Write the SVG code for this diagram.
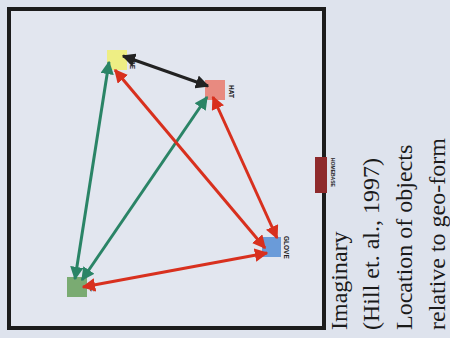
<svg xmlns="http://www.w3.org/2000/svg" width="450" height="338" viewBox="0 0 450 338">
<defs>
<style>
.lbl{font-family:"Liberation Sans",Arial,sans-serif;font-weight:bold;font-size:6.5px;fill:#222}
.cap{font-family:"Liberation Serif","Times New Roman",serif;font-size:24px;fill:#1a1a1a}
.c{fill:none;stroke-width:3}
.red{stroke:#d8301e}
.grn{stroke:#2a8466}
.blk{stroke:#222}
</style>
<marker id="ar" viewBox="0 0 10 10" refX="9" refY="5" markerWidth="4.5" markerHeight="4.5" orient="auto-start-reverse" markerUnits="strokeWidth"><path d="M0,0L10,5L0,10z" fill="#d8301e"/></marker>
<marker id="ag" viewBox="0 0 10 10" refX="9" refY="5" markerWidth="4.5" markerHeight="4.5" orient="auto-start-reverse" markerUnits="strokeWidth"><path d="M0,0L10,5L0,10z" fill="#2a8466"/></marker>
<marker id="ak" viewBox="0 0 10 10" refX="9" refY="5" markerWidth="4.5" markerHeight="4.5" orient="auto-start-reverse" markerUnits="strokeWidth"><path d="M0,0L10,5L0,10z" fill="#222"/></marker>
</defs>
<rect width="450" height="338" fill="#dee3ed"/>
<rect id="frame" x="9" y="9" width="315" height="319" fill="#e2e6ef" stroke="#1c1c1c" stroke-width="4"/>
<g id="homebase">
<rect x="315" y="157" width="12" height="36" fill="#8e2a2c"/>
<text class="lbl" transform="translate(331,158) rotate(90)" style="font-size:5px">HOMEBASE</text>
</g>
<g id="n-yellow">
<rect x="107" y="50" width="20" height="20" fill="#eeee84"/>
<text class="lbl" transform="translate(130,60) rotate(90)">BE</text>
</g>
<g id="n-hat">
<rect x="205" y="80" width="20" height="20" fill="#e88a80"/>
<text class="lbl" transform="translate(229,85) rotate(90)">HAT</text>
</g>
<g id="n-glove">
<rect x="262" y="237" width="19" height="20" fill="#6a9bd9"/>
<text class="lbl" transform="translate(284,236) rotate(90)">GLOVE</text>
</g>
<g id="n-green">
<rect x="67" y="277" width="20" height="20" fill="#7aab72"/>
<text class="lbl" transform="translate(90,287) rotate(90)">C</text>
</g>
<g id="connectors">
<line class="c blk" x1="123" y1="56" x2="208" y2="86" marker-start="url(#ak)" marker-end="url(#ak)"/>
<line class="c grn" x1="109" y1="62" x2="75" y2="279" marker-start="url(#ag)" marker-end="url(#ag)"/>
<line class="c grn" x1="207" y1="97" x2="82" y2="280" marker-start="url(#ag)" marker-end="url(#ag)"/>
<line class="c red" x1="115" y1="70" x2="265" y2="248" marker-start="url(#ar)" marker-end="url(#ar)"/>
<line class="c red" x1="213" y1="97" x2="277" y2="238" marker-start="url(#ar)" marker-end="url(#ar)"/>
<line class="c red" x1="83" y1="287" x2="267" y2="253" marker-start="url(#ar)" marker-end="url(#ar)"/>
</g>
<g id="caption">
<text class="cap" transform="translate(347,330) rotate(-90)">Imaginary</text>
<text class="cap" transform="translate(379,330) rotate(-90)">(Hill et. al., 1997)</text>
<text class="cap" transform="translate(412,330) rotate(-90)">Location of objects</text>
<text class="cap" transform="translate(445,330) rotate(-90)">relative to geo-form</text>
</g>
</svg>
